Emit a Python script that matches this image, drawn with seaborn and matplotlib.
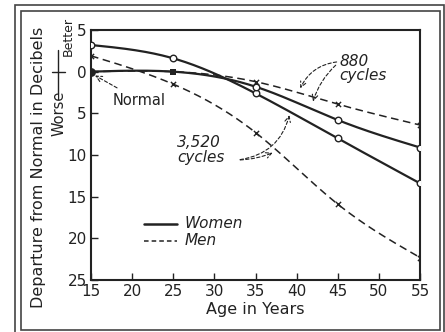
import numpy as np
import pandas as pd
import matplotlib
matplotlib.use("Agg")
import matplotlib.pyplot as plt
from matplotlib.patches import Rectangle
import seaborn as sns

# Hearing loss by age (dB; positive = worse than normal)
ages = [15, 25, 35, 45, 55]
women_3520 = [-3.2, -1.6, 2.6, 8.0, 13.4]
women_880 = [0.0, 0.0, 1.8, 5.8, 9.1]
men_3520 = [-1.9, 1.5, 7.3, 15.9, 22.3]
men_880 = [0.0, 0.0, 1.2, 3.9, 6.4]

x_ticks = [15, 20, 25, 30, 35, 40, 45, 50, 55]
y_ticks = [-5, 0, 5, 10, 15, 20, 25]
y_tick_labels = ["5", "0", "5", "10", "15", "20", "25"]


def smooth(x, y, n=200):
    """Natural cubic spline drawn through the given points."""
    x = np.asarray(x, float)
    y = np.asarray(y, float)
    npts = len(x)
    h = np.diff(x)
    A = np.zeros((npts, npts))
    b = np.zeros(npts)
    A[0, 0] = A[-1, -1] = 1.0
    for i in range(1, npts - 1):
        A[i, i - 1] = h[i - 1]
        A[i, i] = 2 * (h[i - 1] + h[i])
        A[i, i + 1] = h[i]
        b[i] = 3 * ((y[i + 1] - y[i]) / h[i] - (y[i] - y[i - 1]) / h[i - 1])
    c = np.linalg.solve(A, b)
    xs = np.linspace(x[0], x[-1], n)
    ys = np.empty_like(xs)
    for j, xv in enumerate(xs):
        k = min(np.searchsorted(x, xv, side="right") - 1, npts - 2)
        bk = (y[k + 1] - y[k]) / h[k] - h[k] * (c[k + 1] + 2 * c[k]) / 3
        dk = (c[k + 1] - c[k]) / (3 * h[k])
        t = xv - x[k]
        ys[j] = y[k] + bk * t + c[k] * t**2 + dk * t**3
    return xs, ys


sns.set_style("ticks")
plt.rcParams["font.family"] = ["DejaVu Sans"]

fig = plt.figure(figsize=(4.45, 3.32), dpi=100)
fig.patch.set_facecolor("white")
ax = fig.add_axes([91 / 445, 1 - 280 / 332, (420 - 91) / 445, (280 - 30) / 332])

ink = "#222222"
series = [
    (women_3520, "-", 1.6),
    (women_880, "-", 1.6),
    (men_3520, (0, (5, 3)), 1.1),
    (men_880, (0, (5, 3)), 1.1),
]
for vals, ls, lw in series:
    xs, ys = smooth(ages, vals)
    sns.lineplot(x=xs, y=ys, ax=ax, color=ink, lw=lw, linestyle=ls, sort=False)

# point markers
sns.scatterplot(x=ages, y=women_3520, ax=ax, marker="o", s=22, facecolor="white",
                edgecolor=ink, linewidth=1.0, zorder=5)
sns.scatterplot(x=ages[2:], y=women_880[2:], ax=ax, marker="o", s=22, facecolor="white",
                edgecolor=ink, linewidth=1.0, zorder=5)
sns.scatterplot(x=[ages[0]], y=[women_880[0]], ax=ax, marker="o", s=40, color=ink,
                linewidth=0, zorder=6)
sns.scatterplot(x=[ages[1]], y=[women_880[1]], ax=ax, marker="s", s=14, color=ink,
                linewidth=0, zorder=6)
sns.scatterplot(x=ages[2:], y=men_880[2:], ax=ax, marker="x", s=14, color=ink,
                linewidth=1.0, zorder=5)
sns.scatterplot(x=ages, y=men_3520, ax=ax, marker="x", s=14, color=ink,
                linewidth=1.0, zorder=5)

ax.set_xlim(15, 55)
ax.set_ylim(25, -5)
ax.set_xticks(x_ticks)
ax.set_yticks(y_ticks)
ax.set_yticklabels(y_tick_labels)
ax.tick_params(direction="in", length=5, width=1.0, colors=ink, labelsize=11, pad=3)
for s in ax.spines.values():
    s.set_linewidth(1.5)
    s.set_color(ink)
ax.set_xlabel("Age in Years", fontsize=11.5, color=ink, labelpad=2)
ax.set_ylabel("")

# annotations
it = dict(fontstyle="italic", color=ink, fontsize=11)
dash_arrow = dict(arrowstyle="->", linestyle=(0, (3, 2)), lw=0.8, color=ink)
ax.annotate("Normal", xy=(15.2, 0.3), xytext=(20.8, 3.4), fontsize=10.5, color=ink,
            ha="center", va="center",
            arrowprops=dict(dash_arrow, shrinkA=2, shrinkB=2))
ax.text(45.2, -0.4, "880\ncycles", ha="left", va="center", linespacing=0.95, **it)
ax.annotate("", xy=(40.3, 2.3), xytext=(45.2, -1.2),
            arrowprops=dict(dash_arrow, connectionstyle="arc3,rad=0.3"))
ax.annotate("", xy=(41.9, 3.9), xytext=(45.0, -1.0),
            arrowprops=dict(dash_arrow, connectionstyle="arc3,rad=0.15"))
ax.text(25.5, 9.4, "3,520\ncycles", ha="left", va="center", linespacing=0.95, **it)
ax.annotate("", xy=(39.2, 4.9), xytext=(32.8, 10.6),
            arrowprops=dict(dash_arrow, connectionstyle="arc3,rad=0.35"))
ax.annotate("", xy=(37.4, 9.6), xytext=(32.8, 10.6),
            arrowprops=dict(dash_arrow, connectionstyle="arc3,rad=0.1"))

# legend
ax.plot([21.5, 25.5], [18.3, 18.3], color=ink, lw=1.8)
ax.plot([21.5, 25.5], [20.3, 20.3], color=ink, lw=1.1, linestyle=(0, (3, 2)))
ax.text(26.4, 18.2, "Women", ha="left", va="center", **it)
ax.text(26.4, 20.2, "Men", ha="left", va="center", **it)

# y-axis titles
fig.text(39 / 445, 1 - 167 / 332, "Departure from Normal in Decibels", rotation=90,
         ha="center", va="center", fontsize=11.5, color=ink)
fig.text(68 / 445, 1 - 37 / 332, "Better", rotation=90, ha="center", va="center",
         fontsize=9, color=ink)
fig.text(59 / 445, 1 - 113 / 332, "Worse", rotation=90, ha="center", va="center",
         fontsize=10.5, color=ink)
fig.add_artist(plt.Line2D([58 / 445, 58 / 445], [1 - 50 / 332, 1 - 93 / 332],
                          color=ink, lw=1.0))
fig.add_artist(plt.Line2D([52 / 445, 65 / 445], [1 - 72 / 332, 1 - 72 / 332],
                          color=ink, lw=1.0))

# double frame around the figure
fig.add_artist(Rectangle((15 / 445, -0.01), (444 - 15) / 445, 1 - 5 / 332 + 0.01,
                         transform=fig.transFigure, fill=False, lw=1.2, ec="#444444"))
fig.add_artist(Rectangle((21 / 445, 2 / 332), (440 - 21) / 445, 1 - 13 / 332,
                         transform=fig.transFigure, fill=False, lw=1.2, ec="#444444"))

fig.savefig("out.png", dpi=100, facecolor="white")
